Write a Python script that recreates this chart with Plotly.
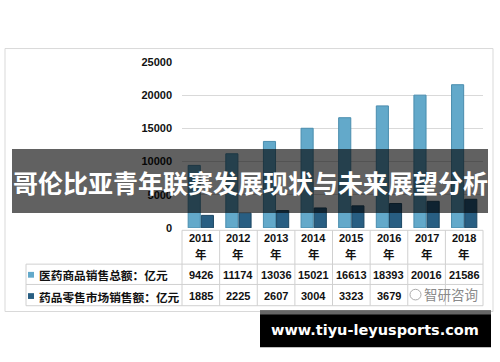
import plotly.graph_objects as go

years = ["2011", "2012", "2013", "2014", "2015", "2016", "2017", "2018"]
total_sales = [9426, 11174, 13036, 15021, 16613, 18393, 20016, 21586]
retail_sales = [1885, 2225, 2607, 3004, 3323, 3679, 4003, 4317]
row_labels = ["医药商品销售总额：亿元", "药品零售市场销售额：亿元"]
y_ticks = [0, 5000, 10000, 15000, 20000, 25000]
title_text = "哥伦比亚青年联赛发展现状与未来展望分析"
site_text = "www.tiyu-leyusports.com"
mark_text = "智研咨询"
hidden_cells = ["2017", "2018"]  # retail cells covered by the watermark

W, H = 500, 362
LIGHT = "#63A9CA"
DARK = "#285E82"


def px(x):
    return x / W


def py(y):
    return 1 - y / H


fig = go.Figure()
fig.add_bar(x=years, y=total_sales, marker=dict(color=LIGHT, line=dict(color="#4A8DAE", width=1)), name=row_labels[0])
fig.add_bar(x=years, y=retail_sales, marker=dict(color=DARK, line=dict(color="#1C4763", width=1)), name=row_labels[1])

x0, x1 = 182, 483
y0, y1 = 229.5, 58
shapes = []
ann = []

shapes.append(dict(type="rect", xref="paper", yref="paper", x0=px(5), x1=px(493), y0=py(316), y1=py(44),
                   line=dict(color="#D9D9D9", width=1), fillcolor="rgba(0,0,0,0)", layer="below"))

n = len(years)
cw = (x1 - x0) / n
hdr_top, hdr_bot, r1_bot, r2_bot = 232, 267, 288, 310
tab_left = 26
lc = "#D0D0D0"
shapes.append(dict(type="line", xref="paper", yref="paper", x0=px(x0), x1=px(x1), y0=py(hdr_top), y1=py(hdr_top), line=dict(color=lc, width=1)))
for yy in [hdr_bot, r1_bot, r2_bot]:
    shapes.append(dict(type="line", xref="paper", yref="paper", x0=px(tab_left), x1=px(x1), y0=py(yy), y1=py(yy), line=dict(color=lc, width=1)))
for i in range(n + 1):
    xx = x0 + i * cw
    shapes.append(dict(type="line", xref="paper", yref="paper", x0=px(xx), x1=px(xx), y0=py(hdr_top), y1=py(r2_bot), line=dict(color=lc, width=1)))
shapes.append(dict(type="line", xref="paper", yref="paper", x0=px(tab_left), x1=px(tab_left), y0=py(hdr_bot), y1=py(r2_bot), line=dict(color=lc, width=1)))

numfont = dict(family="Liberation Sans, Arial", size=11, color="#111", weight="bold")
for i, yr in enumerate(years):
    cx = x0 + (i + 0.5) * cw
    ann.append(dict(x=px(cx), y=py(240), xref="paper", yref="paper", text=yr, showarrow=False, font=numfont, xanchor="center", yanchor="middle"))
    ann.append(dict(x=px(cx), y=py(257), xref="paper", yref="paper", text="年", showarrow=False,
                    font=dict(family="Noto Sans CJK SC", size=11.5, color="#111", weight="bold"), xanchor="center", yanchor="middle"))
    ann.append(dict(x=px(cx), y=py(278), xref="paper", yref="paper", text=str(total_sales[i]), showarrow=False, font=numfont, xanchor="center", yanchor="middle"))
    if yr not in hidden_cells:
        ann.append(dict(x=px(cx), y=py(300), xref="paper", yref="paper", text=str(retail_sales[i]), showarrow=False, font=numfont, xanchor="center", yanchor="middle"))

lblfont = dict(family="Noto Sans CJK SC", size=11.7, color="#111", weight="bold")
for j, (lbl, col, yc) in enumerate(zip(row_labels, [LIGHT, DARK], [278, 300])):
    shapes.append(dict(type="rect", xref="paper", yref="paper", x0=px(28), x1=px(34), y0=py(yc + 3), y1=py(yc - 3), fillcolor=col, line=dict(width=0)))
    ann.append(dict(x=px(37), y=py(yc), xref="paper", yref="paper", text=lbl, showarrow=False, font=lblfont, xanchor="left", yanchor="middle"))

# watermark
shapes.append(dict(type="circle", xref="paper", yref="paper", x0=px(410), x1=px(421), y0=py(304), y1=py(293), line=dict(color="#AAAAAA", width=1)))
ann.append(dict(x=px(451), y=py(298), xref="paper", yref="paper", text=mark_text, showarrow=False,
                font=dict(family="Noto Sans CJK SC", size=13.5, color="#8A8A8A"), xanchor="center", yanchor="middle"))

# title banner
shapes.append(dict(type="rect", xref="paper", yref="paper", x0=px(12), x1=px(488), y0=py(214), y1=py(148),
                   fillcolor="rgba(0,0,0,0.62)", line=dict(width=0), layer="above"))
ann.append(dict(x=px(250), y=py(182), xref="paper", yref="paper", text=title_text, showarrow=False,
                font=dict(family="Noto Sans CJK SC", size=25, color="white", weight="bold"), xanchor="center", yanchor="middle"))

# bottom site box
shapes.append(dict(type="rect", xref="paper", yref="paper", x0=px(260), x1=px(491), y0=py(353), y1=py(315),
                   fillcolor="#000000", line=dict(width=0), layer="above"))
shapes.append(dict(type="rect", xref="paper", yref="paper", x0=px(260), x1=px(491), y0=py(319), y1=py(315),
                   fillcolor="#666666", line=dict(width=0), layer="above"))
ann.append(dict(x=px(375), y=py(335), xref="paper", yref="paper", text=site_text, showarrow=False,
                font=dict(family="DejaVu Sans", size=14.5, color="white", weight="bold"), xanchor="center", yanchor="middle"))

fig.update_layout(
    width=W, height=H, margin=dict(l=0, r=0, t=0, b=0),
    paper_bgcolor="white", plot_bgcolor="white",
    showlegend=False, barmode="group", bargap=0.3, bargroupgap=0.08,
    xaxis=dict(domain=[px(x0), px(x1)], showticklabels=False, showgrid=False, zeroline=False, showline=False, ticks=""),
    yaxis=dict(domain=[py(y0), py(y1)], range=[0, 25000], tickvals=y_ticks, ticktext=[str(v) for v in y_ticks],
               showgrid=True, gridcolor="#D9D9D9", gridwidth=1, zeroline=False, showline=False, ticks="",
               ticklabelstandoff=9, tickfont=dict(family="Liberation Sans, Arial", size=11, color="#111", weight="bold")),
    shapes=shapes, annotations=ann,
)

fig.write_html("out.html", config={"displayModeBar": False},
               post_script="document.body.style.margin='0';document.body.style.overflow='hidden';")
